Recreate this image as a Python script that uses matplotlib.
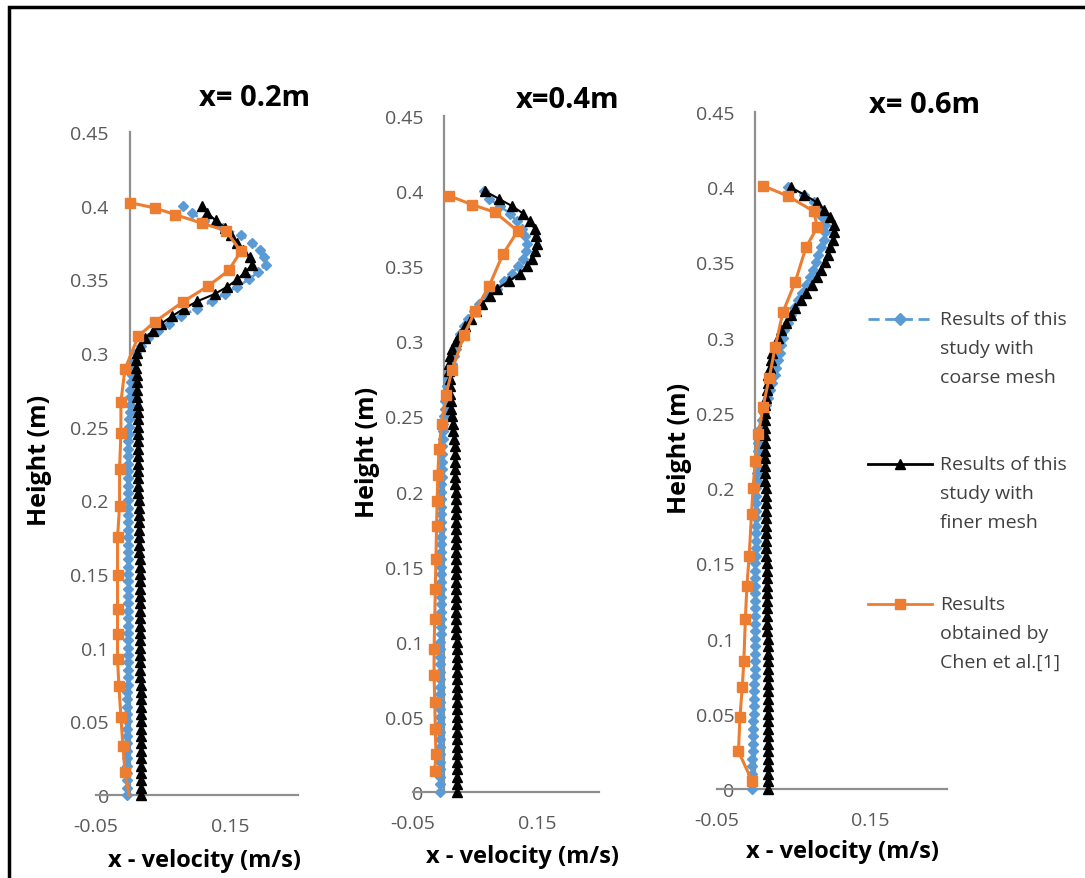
import matplotlib
matplotlib.use('Agg')
import matplotlib.pyplot as plt
from matplotlib.lines import Line2D
from matplotlib.patches import Rectangle

W, H = 1085, 879
FONT = 'Open Sans'
plt.rcParams['font.family'] = [FONT, 'DejaVu Sans']

# mesh heights (m) shared by both CFD runs
MESH_H = [
    0.000, 0.005, 0.010, 0.015, 0.020, 0.025, 0.030, 0.035, 0.040, 0.045,
    0.050, 0.055, 0.060, 0.065, 0.070, 0.075, 0.080, 0.085, 0.090, 0.095,
    0.100, 0.105, 0.110, 0.115, 0.120, 0.125, 0.130, 0.135, 0.140, 0.145,
    0.150, 0.155, 0.160, 0.165, 0.170, 0.175, 0.180, 0.185, 0.190, 0.195,
    0.200, 0.205, 0.210, 0.215, 0.220, 0.225, 0.230, 0.235, 0.240, 0.245,
    0.250, 0.255, 0.260, 0.265, 0.270, 0.275, 0.280, 0.285, 0.290, 0.295,
    0.300, 0.305, 0.310, 0.315, 0.320, 0.325, 0.330, 0.335, 0.340, 0.345,
    0.350, 0.355, 0.360, 0.365, 0.370, 0.375, 0.380, 0.385, 0.390, 0.395,
    0.400]

# x = 0.2 m
P1_COARSE = [
    -0.004, -0.004, -0.004, -0.004, -0.004, -0.004, -0.004, -0.004, -0.004, -0.004,
    -0.004, -0.004, -0.004, -0.004, -0.004, -0.003, -0.003, -0.003, -0.003, -0.003,
    -0.003, -0.003, -0.003, -0.003, -0.003, -0.003, -0.003, -0.003, -0.003, -0.003,
    -0.003, -0.003, -0.003, -0.003, -0.003, -0.003, -0.003, -0.003, -0.003, -0.003,
    -0.003, -0.003, -0.003, -0.003, -0.002, -0.002, -0.002, -0.002, -0.002, -0.001,
    -0.001, -0.001, 0.000, 0.000, 0.000, 0.001, 0.002, 0.003, 0.004, 0.006,
    0.010, 0.017, 0.027, 0.042, 0.058, 0.076, 0.100, 0.122, 0.141, 0.160,
    0.177, 0.191, 0.203, 0.200, 0.193, 0.181, 0.166, 0.138, 0.110, 0.092,
    0.079]
P1_FINE = [
    0.017, 0.017, 0.017, 0.017, 0.017, 0.017, 0.017, 0.017, 0.017, 0.017,
    0.017, 0.017, 0.017, 0.017, 0.017, 0.017, 0.016, 0.016, 0.016, 0.016,
    0.016, 0.016, 0.016, 0.016, 0.016, 0.015, 0.015, 0.015, 0.015, 0.015,
    0.015, 0.015, 0.015, 0.014, 0.014, 0.014, 0.014, 0.014, 0.014, 0.014,
    0.014, 0.013, 0.013, 0.013, 0.013, 0.013, 0.013, 0.013, 0.012, 0.012,
    0.012, 0.012, 0.012, 0.012, 0.011, 0.011, 0.011, 0.011, 0.010, 0.010,
    0.011, 0.015, 0.023, 0.034, 0.047, 0.063, 0.080, 0.100, 0.126, 0.145,
    0.160, 0.172, 0.182, 0.178, 0.168, 0.160, 0.151, 0.142, 0.128, 0.115,
    0.108]
P1_CHEN_H = [0.402, 0.3985, 0.394, 0.388, 0.383, 0.369, 0.356, 0.3456, 0.3347,
             0.321, 0.3116, 0.289, 0.267, 0.246, 0.221, 0.196, 0.175, 0.149,
             0.126, 0.109, 0.092, 0.074, 0.053, 0.033, 0.0156, 0.0]
P1_CHEN_V = [0.001, 0.037, 0.067, 0.108, 0.143, 0.165, 0.147, 0.117, 0.079,
             0.037, 0.013, -0.007, -0.013, -0.013, -0.015, -0.015, -0.018, -0.018,
             -0.018, -0.018, -0.018, -0.016, -0.013, -0.010, -0.007, -0.001]

# x = 0.4 m
P2_COARSE = [
    -0.006, -0.006, -0.006, -0.006, -0.006, -0.006, -0.006, -0.006, -0.006, -0.006,
    -0.006, -0.006, -0.006, -0.006, -0.006, -0.006, -0.006, -0.006, -0.006, -0.006,
    -0.006, -0.005, -0.005, -0.005, -0.005, -0.005, -0.005, -0.005, -0.005, -0.005,
    -0.005, -0.005, -0.005, -0.005, -0.005, -0.005, -0.005, -0.005, -0.005, -0.005,
    -0.005, -0.005, -0.004, -0.004, -0.004, -0.003, -0.003, -0.002, -0.002, -0.001,
    0.000, 0.001, 0.002, 0.004, 0.005, 0.007, 0.010, 0.013, 0.016, 0.019,
    0.022, 0.026, 0.032, 0.039, 0.048, 0.057, 0.069, 0.085, 0.097, 0.109,
    0.120, 0.128, 0.133, 0.134, 0.130, 0.125, 0.117, 0.107, 0.090, 0.072,
    0.064]
P2_FINE = [
    0.021, 0.021, 0.021, 0.021, 0.021, 0.021, 0.021, 0.021, 0.021, 0.021,
    0.021, 0.021, 0.021, 0.021, 0.021, 0.021, 0.021, 0.021, 0.021, 0.021,
    0.021, 0.020, 0.020, 0.020, 0.020, 0.020, 0.020, 0.020, 0.020, 0.020,
    0.020, 0.019, 0.019, 0.019, 0.019, 0.019, 0.019, 0.019, 0.019, 0.019,
    0.019, 0.018, 0.018, 0.018, 0.018, 0.018, 0.017, 0.016, 0.015, 0.014,
    0.013, 0.012, 0.011, 0.010, 0.009, 0.009, 0.008, 0.008, 0.010, 0.013,
    0.019, 0.026, 0.034, 0.043, 0.051, 0.061, 0.074, 0.086, 0.105, 0.122,
    0.134, 0.142, 0.147, 0.150, 0.149, 0.146, 0.138, 0.128, 0.110, 0.088,
    0.066]
P2_CHEN_H = [0.397, 0.391, 0.386, 0.3735, 0.358, 0.337, 0.320, 0.304, 0.281,
             0.264, 0.245, 0.228, 0.211, 0.194, 0.177, 0.155, 0.135, 0.115,
             0.095, 0.078, 0.060, 0.042, 0.025, 0.014]
P2_CHEN_V = [0.008, 0.045, 0.082, 0.119, 0.095, 0.073, 0.050, 0.032, 0.013,
             0.003, -0.004, -0.008, -0.010, -0.011, -0.012, -0.013, -0.014, -0.015,
             -0.016, -0.016, -0.015, -0.014, -0.013, -0.015]

# x = 0.6 m
P3_COARSE = [
    -0.004, -0.004, -0.004, -0.004, -0.004, -0.003, -0.003, -0.003, -0.003, -0.003,
    -0.002, -0.002, -0.002, -0.002, -0.002, -0.001, -0.001, -0.001, -0.001, -0.001,
    -0.001, 0.000, 0.000, 0.000, 0.000, 0.000, 0.000, 0.000, 0.000, 0.000,
    0.000, 0.001, 0.001, 0.001, 0.001, 0.001, 0.001, 0.001, 0.001, 0.001,
    0.001, 0.002, 0.002, 0.002, 0.002, 0.003, 0.004, 0.005, 0.007, 0.009,
    0.011, 0.014, 0.017, 0.019, 0.022, 0.025, 0.027, 0.030, 0.032, 0.034,
    0.036, 0.038, 0.042, 0.046, 0.051, 0.056, 0.061, 0.066, 0.071, 0.075,
    0.079, 0.082, 0.086, 0.089, 0.091, 0.091, 0.087, 0.083, 0.077, 0.063,
    0.043]
P3_FINE = [
    0.016, 0.016, 0.016, 0.016, 0.016, 0.016, 0.016, 0.016, 0.016, 0.016,
    0.016, 0.016, 0.016, 0.016, 0.016, 0.016, 0.016, 0.016, 0.016, 0.016,
    0.016, 0.015, 0.015, 0.015, 0.015, 0.015, 0.015, 0.015, 0.015, 0.015,
    0.015, 0.014, 0.014, 0.014, 0.014, 0.014, 0.014, 0.014, 0.014, 0.014,
    0.014, 0.013, 0.013, 0.013, 0.013, 0.013, 0.013, 0.013, 0.013, 0.013,
    0.013, 0.013, 0.014, 0.015, 0.016, 0.017, 0.019, 0.020, 0.022, 0.025,
    0.029, 0.034, 0.040, 0.046, 0.052, 0.059, 0.066, 0.074, 0.080, 0.086,
    0.091, 0.095, 0.098, 0.101, 0.102, 0.102, 0.097, 0.090, 0.080, 0.064,
    0.046]
P3_CHEN_H = [0.401, 0.394, 0.384, 0.3735, 0.360, 0.337, 0.317, 0.294, 0.273,
             0.254, 0.236, 0.218, 0.200, 0.183, 0.155, 0.135, 0.113, 0.085,
             0.068, 0.048, 0.025, 0.005]
P3_CHEN_V = [0.010, 0.043, 0.076, 0.081, 0.066, 0.052, 0.036, 0.026, 0.018,
             0.010, 0.004, 0.000, -0.003, -0.005, -0.008, -0.011, -0.013, -0.015,
             -0.017, -0.020, -0.022, -0.004]

TITLES = ['x= 0.2m', 'x=0.4m', 'x= 0.6m']
Y_TICKS = [0, 0.05, 0.1, 0.15, 0.2, 0.25, 0.3, 0.35, 0.4, 0.45]
Y_TICK_LABELS = ['0', '0.05', '0.1', '0.15', '0.2', '0.25', '0.3', '0.35', '0.4', '0.45']
X_TICKS = [-0.05, 0.15]
X_TICK_LABELS = ['-0.05', '0.15']
LEGEND_LABELS = [['Results of this', 'study with', 'coarse mesh'],
                 ['Results of this', 'study with', 'finer mesh'],
                 ['Results', 'obtained by', 'Chen et al.[1]']]

BLUE = '#5B9BD5'
ORANGE = '#ED7D31'
AXIS_GREY = '#8F8F8F'
TEXT_GREY = '#595959'

# layout in pixels: (left, right, top, bottom) of each plot area
BOXES = [(96, 298, 133, 796), (413, 599, 117, 793), (717, 947, 113, 790)]
TITLE_XY = [(255, 99), (568, 100), (925, 106)]
XLABEL_XY = [(205, 861), (522, 857), (842, 852)]
YLABEL_XY = [(40, 460), (368, 452), (679, 448)]

series = [
    (P1_COARSE, P1_FINE, P1_CHEN_V, P1_CHEN_H),
    (P2_COARSE, P2_FINE, P2_CHEN_V, P2_CHEN_H),
    (P3_COARSE, P3_FINE, P3_CHEN_V, P3_CHEN_H),
]


def fx(x):
    return x / W


def fy(y):
    return 1 - y / H


fig = plt.figure(figsize=(W / 100, H / 100), dpi=100)

for i, (coarse, fine, chen_v, chen_h) in enumerate(series):
    l, r, t, b = BOXES[i]
    ax = fig.add_axes([fx(l), fy(b), (r - l) / W, (b - t) / H])
    ax.set_xlim(-0.05, 0.25)
    ax.set_ylim(0, 0.45)

    ax.plot(coarse, MESH_H, color=BLUE, ls='--', lw=1.8, marker='D', ms=5.5,
            mec=BLUE, mfc=BLUE, clip_on=False, zorder=3)
    ax.plot(fine, MESH_H, color='black', ls='-', lw=1.5, marker='^', ms=6.5,
            mec='black', mfc='black', clip_on=False, zorder=4)
    marks = [k for k, h in enumerate(chen_h) if h > 0]
    ax.plot(chen_v, chen_h, color=ORANGE, ls='-', lw=2.2, marker='s', ms=7.5,
            mec=ORANGE, mfc=ORANGE, markevery=marks, clip_on=False, zorder=5)

    for side in ['top', 'right']:
        ax.spines[side].set_visible(False)
    ax.spines['left'].set_position(('data', 0))
    ax.spines['left'].set_color(AXIS_GREY)
    ax.spines['left'].set_linewidth(1.6)
    ax.spines['bottom'].set_color(AXIS_GREY)
    ax.spines['bottom'].set_linewidth(1.6)
    ax.set_yticks(Y_TICKS)
    ax.set_yticklabels(Y_TICK_LABELS)
    ax.set_xticks(X_TICKS)
    ax.set_xticklabels(X_TICK_LABELS)
    ax.tick_params(length=0, labelsize=14, labelcolor=TEXT_GREY)
    ax.tick_params(axis='y', pad=15)
    ax.tick_params(axis='x', pad=16)
    ax.patch.set_visible(False)

    tx, ty = TITLE_XY[i]
    fig.text(fx(tx), fy(ty), TITLES[i], ha='center', va='center',
             fontsize=21, fontweight='bold', color='black')
    lx, ly = XLABEL_XY[i]
    fig.text(fx(lx), fy(ly), 'x - velocity (m/s)', ha='center', va='center',
             fontsize=17, fontweight='bold', color='black')
    yx, yy = YLABEL_XY[i]
    fig.text(fx(yx), fy(yy), 'Height (m)', ha='center', va='center',
             rotation=90, fontsize=18, fontweight='bold', color='black')

# legend, drawn by hand so the key sits on the first text line
legend_styles = [
    dict(color=BLUE, ls=(0, (4, 2)), marker='D', ms=6),
    dict(color='black', ls='-', marker='^', ms=7),
    dict(color=ORANGE, ls='-', marker='s', ms=7),
]
legend_y = [320, 465, 605]
for k, style in enumerate(legend_styles):
    y0 = legend_y[k]
    key = Line2D([fx(868), fx(900), fx(932)], [fy(y0)] * 3, transform=fig.transFigure,
                 lw=2, markevery=[1], mfc=style['color'], mec=style['color'], **style)
    fig.add_artist(key)
    for j, line in enumerate(LEGEND_LABELS[k]):
        fig.text(fx(940), fy(y0 + 29 * j), line, ha='left', va='center',
                 fontsize=14, color='#404040')

# outer frame of the figure
frame = Rectangle((fx(8.5), -0.1), 2, fy(8) + 0.1, transform=fig.transFigure,
                  fill=False, lw=2.5, ec='black')
fig.add_artist(frame)

fig.savefig('out.png', dpi=100)
